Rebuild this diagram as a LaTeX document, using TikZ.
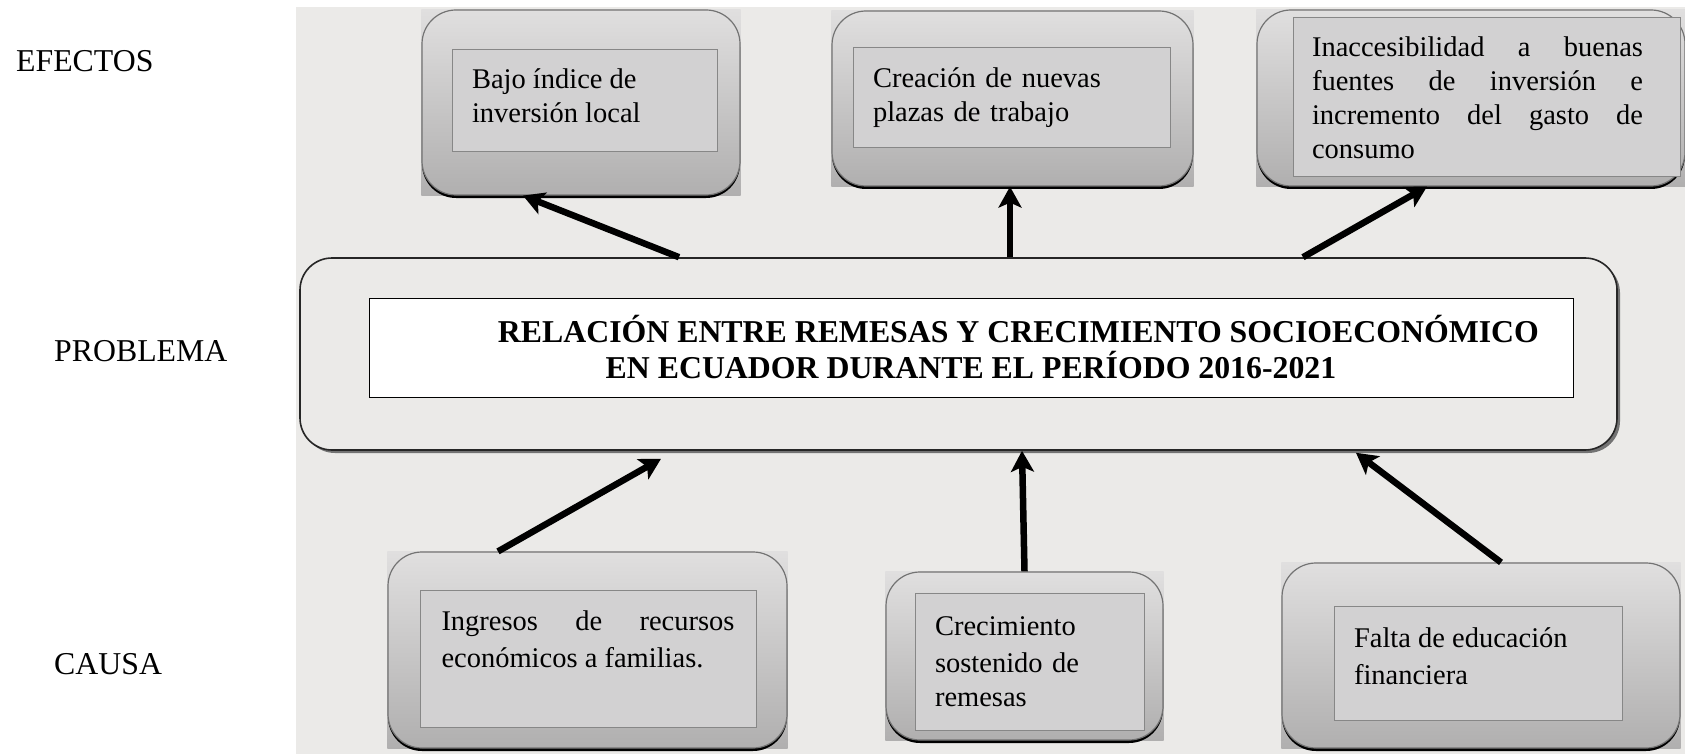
\documentclass[tikz,border=0pt]{standalone}
\usepackage{fontspec}
\setmainfont{Liberation Serif}
\usetikzlibrary{arrows.meta, shadows, backgrounds}

\definecolor{panel}{RGB}{235,234,232}
\definecolor{shadetop}{RGB}{224,223,223}
\definecolor{shadebot}{RGB}{176,175,175}
\definecolor{infill}{RGB}{210,209,210}
\definecolor{inline}{RGB}{135,135,135}
\definecolor{boxline}{RGB}{115,115,115}
\newcommand{\bodyfont}{\fontsize{28.5}{34}\selectfont}
\newcommand{\widefont}{\fontsize{28.5}{37.5}\selectfont}
\newcommand{\bigfont}{\fontsize{31.8}{36}\selectfont}

\tikzset{
  outbox/.style={rectangle, rounded corners=34pt, draw=boxline, line width=1.2pt,
    top color=shadetop, bottom color=shadebot,
    drop shadow={shadow xshift=0pt, shadow yshift=-3pt, fill=black, opacity=1}},
  inbox/.style={rectangle, draw=inline, line width=1pt, fill=infill,
    inner xsep=20pt, inner ysep=0pt, font=\bodyfont},
  probbox/.style={rectangle, rounded corners=32pt, draw=black!85, line width=1.6pt, fill=panel,
    drop shadow={shadow xshift=3pt, shadow yshift=-3pt, fill=black!55, opacity=1}},
  titbox/.style={rectangle, draw=black, line width=1pt, fill=white, inner sep=0pt,
    font=\bigfont\bfseries, align=center},
  arr/.style={line width=6.5pt, -{Stealth[length=21pt,width=23pt,inset=5pt]}},
  lbl/.style={anchor=west, inner sep=0pt, font=\bigfont},
}

\begin{document}
\begin{tikzpicture}
  [x=1pt,y=-1pt]
  \useasboundingbox (0,0) rectangle (1685,754);
  % outer boxes, effects and causes
  \foreach \n/\x/\y/\w/\h in {e1/581/102.5/318/185, e2/1012.5/98.5/361/175, e3/1471/98/428/176,
      c1/587.5/650/399/196, c2/1024.5/656/277/168, c3/1481/655.5/398/185} {
    \node[outbox, minimum width=\w pt, minimum height=\h pt] (\n) at (\x,\y) {};
  }
  % panel and square corners
  \begin{scope}[on background layer]
    \fill[panel] (296,7) rectangle (1685,754);
    \foreach \n in {e1,e2,e3,c1,c2,c3} {
      \shade[top color=shadetop, bottom color=shadebot] (\n.north west) rectangle (\n.south east);
    }
  \end{scope}
  % effects
  \node[inbox] (e1t) at (584.5,101)
    {\parbox[c][102pt][t]{225pt}{\raggedright\vspace*{18.5pt}Bajo índice de\\inversión local}};
  \node[inbox, text width=277pt, minimum height=100pt, align=left] (e2t) at (1011.5,98)
    {Creación de nuevas\\plazas de trabajo};
  \node[inbox, inner xsep=19pt, minimum height=159pt] (e3t) at (1486.5,97.5)
    {\parbox{331pt}{Inaccesibilidad a buenas\linebreak fuentes de inversión e\linebreak
      incremento del gasto de\linebreak consumo}\hspace*{18pt}};
  % problem
  \node[probbox, minimum width=1317pt, minimum height=192pt] (prob) at (958.5,354) {};
  \node[titbox, minimum width=1204pt, minimum height=99pt] (tit) at (971,347.5)
    {\hspace*{95pt}RELACIÓN ENTRE REMESAS Y CRECIMIENTO SOCIOECONÓMICO\\EN ECUADOR DURANTE EL PERÍODO 2016-2021};
  % causes
  \node[inbox, inner xsep=21.5pt] (c1t) at (588,658.5)
    {\parbox[c][137pt][t]{293pt}{\widefont\vspace*{20.5pt}Ingresos de recursos\linebreak económicos a familias.}};
  \node[inbox, text width=189pt, minimum height=137pt, align=left] (c2t) at (1029.5,661.5)
    {\widefont Crecimiento\\sostenido de\\remesas};
  \node[inbox] (c3t) at (1478,663)
    {\parbox[c][114pt][t]{248pt}{\widefont\raggedright\vspace*{21.5pt}Falta de educación\\financiera}};
  % row labels
  \node[lbl] (lefe) at (16,61) {EFECTOS};
  \node[lbl] (lpro) at (54,351) {PROBLEMA};
  \node[lbl] (lcau) at (54,664) {CAUSA};
  % arrows
  \draw[arr] ([xshift=-279.5pt]prob.north) -- ([xshift=-58pt]e1.south);
  \draw[arr] ([xshift=51.5pt]prob.north) -- ([xshift=-2.5pt]e2.south);
  \draw[arr] ([xshift=344.5pt]prob.north) -- ([xshift=-44pt]e3.south);
  \draw[arr] ([xshift=-89.5pt]c1.north) -- ([shift={(-297.5pt,-8pt)}]prob.south);
  \draw[arr] (c2.north) -- ([xshift=63.5pt]prob.south);
  \draw[arr] ([xshift=20pt]c3.north) -- ([shift={(397.5pt,-2pt)}]prob.south);
\end{tikzpicture}
\end{document}
